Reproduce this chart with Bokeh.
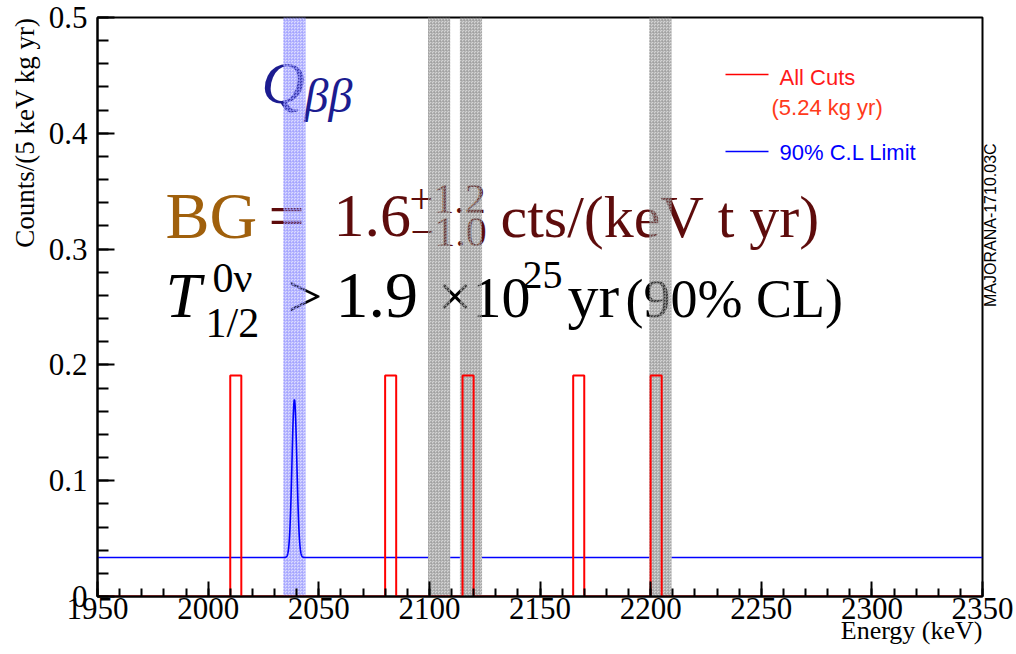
import numpy as np
from bokeh.plotting import figure
from bokeh.models import Label, Range1d, FixedTicker, LinearAxis, Title
from bokeh.embed import file_html
from bokeh.resources import INLINE

# ---- data -------------------------------------------------------------
exposure_kg_yr = 5.24
bin_width_kev = 5.0
energy_min, energy_max = 1950.0, 2350.0
# energies of the events passing all cuts (one per 5 keV bin)
event_energies = [2012.5, 2082.5, 2117.5, 2167.5, 2202.5]

# 90% C.L. limit model: flat background plus a peak at Q_bb
q_bb = 2039.0
limit_flat = 0.0337
limit_peak = 0.170
peak_sigma = 1.1

# Q_bb window and background windows excluded from the fit
roi_half_width = 5.0
excluded_centres = [2104.4, 2118.8, 2204.4]
excluded_half_width = 5.0

x_tick_values = [1950, 2000, 2050, 2100, 2150, 2200, 2250, 2300, 2350]
x_tick_labels = ["1950", "2000", "2050", "2100", "2150", "2200", "2250", "2300", "2350"]
y_tick_values = [0.0, 0.1, 0.2, 0.3, 0.4, 0.5]
y_tick_labels = ["0", "0.1", "0.2", "0.3", "0.4", "0.5"]

x_title = "Energy (keV)"
y_title = "Counts/(5 keV kg yr)"
plot_tag = "MAJORANA-1710.03C"

# ---- geometry ---------------------------------------------------------
W, H = 1016, 654
BL, BR, BT, BB = 97, 34, 17, 58
FW, FH = W - BL - BR, H - BT - BB
y_min, y_max = 0.0, 0.5


def at(px, py):
    """Pixel position on the page -> data coordinates."""
    return (energy_min + (px - BL) * (energy_max - energy_min) / FW,
            y_min + (BT + FH - py) * (y_max - y_min) / FH)


p = figure(width=W, height=H, output_backend="svg", toolbar_location=None,
           x_range=Range1d(energy_min, energy_max), y_range=Range1d(y_min, y_max),
           min_border_left=BL, min_border_right=BR, min_border_top=BT, min_border_bottom=BB)
p.xgrid.visible = False
p.ygrid.visible = False
p.outline_line_color = "black"
p.outline_line_width = 2
p.background_fill_color = "white"
p.border_fill_color = "white"

# axes
p.xaxis.ticker = FixedTicker(ticks=x_tick_values,
                             minor_ticks=list(np.arange(energy_min, energy_max + 1, 10.0)))
p.xaxis.major_label_overrides = dict(zip(x_tick_values, x_tick_labels))
p.yaxis.ticker = FixedTicker(ticks=y_tick_values,
                             minor_ticks=[round(v, 2) for v in np.arange(0, 0.501, 0.02)])
p.yaxis.major_label_overrides = dict(zip(y_tick_values, y_tick_labels))
for ax in (p.xaxis[0], p.yaxis[0]):
    ax.axis_line_width = 2
    ax.axis_line_color = "black"
    ax.major_tick_line_width = 2
    ax.minor_tick_line_width = 2
    ax.major_tick_out = 0
    ax.minor_tick_out = 0
    ax.major_label_text_font = "Liberation Serif"
    ax.major_label_text_font_size = "31px"
    ax.major_label_text_color = "black"
p.xaxis.major_tick_in = 15
p.xaxis.minor_tick_in = 8
p.xaxis.major_label_standoff = 1
p.yaxis.major_tick_in = 17
p.yaxis.minor_tick_in = 11
p.yaxis.major_label_standoff = 10

# ROOT-style axis titles, flush with the right end / top end of the axes
p.add_layout(Title(text=x_title, align="right", vertical_align="middle", standoff=-14,
                   text_font="Liberation Serif", text_font_size="26px",
                   text_font_style="normal", text_color="black"), "below")
p.add_layout(Title(text=y_title, align="right", vertical_align="middle", standoff=10,
                   text_font="Liberation Serif", text_font_size="27px",
                   text_font_style="normal", text_color="black"), "left")

# tag along the right-hand edge, read bottom to top, carried by a bare axis
tag_axis = LinearAxis(ticker=FixedTicker(ticks=[]), axis_line_color=None,
                      major_tick_line_color=None, minor_tick_line_color=None,
                      major_label_text_font_size="0px", axis_label=plot_tag,
                      axis_label_text_font="Liberation Sans", axis_label_text_font_size="16px",
                      axis_label_text_font_style="normal", axis_label_text_color="black",
                      axis_label_standoff=8, axis_label_orientation=np.pi / 2)
p.add_layout(tag_axis, "right")


def label(text, px, base, size, color="black", font="Liberation Serif", style="normal",
          level="underlay"):
    """Text whose glyph baseline sits at page row `base` (middle-anchored)."""
    x, y = at(px, base - 0.34 * size)
    p.add_layout(Label(x=x, y=y, text=text, text_font=font, text_font_size=f"{size}px",
                       text_color=color, text_font_style=style, text_align="left",
                       text_baseline="middle", level=level))


# formulae (drawn under the shaded windows)
brown, maroon, navy = "#a0600c", "#5e0c0c", "#1c1c90"
label("Q", 261, 103, 60, navy, style="italic")
label("ββ", 304, 111, 48, navy, style="italic")

label("BG", 165, 237, 66, brown)
label("=", 268, 237, 64, maroon)
label("1.6", 333, 237, 62, maroon)
label("+1.2", 409, 213, 42, maroon)
label("\u22121.0", 410, 246, 42, maroon)
label("cts/(keV t yr)", 500, 237, 60, maroon)

label("T", 165, 317, 64, style="italic")
label("0ν", 212, 292, 42)
label("1/2", 205, 337, 42)
label(">", 287, 317, 62)
label("1.9", 335, 317, 66)
label("×", 437, 317, 62)
label("10", 472, 317, 58)
label("25", 522, 288, 40)
label("yr", 567, 317, 62)
label("(90% CL)", 625, 317, 54)

# legend
lx0, ly_red = at(725, 74)
lx1, ly_blue = at(768, 151)
p.segment(x0=[lx0], y0=[ly_red], x1=[lx1], y1=[ly_red], line_color="#ff0000", line_width=1.5)
p.segment(x0=[lx0], y0=[ly_blue], x1=[lx1], y1=[ly_blue], line_color="#0000ff", line_width=1.5)
label("All Cuts", 779, 84, 22, "#ff1a1a", font="Liberation Sans", level="annotation")
label("(5.24 kg yr)", 771, 114, 22, "#ff3a1a", font="Liberation Sans", level="annotation")
label("90% C.L Limit", 779, 159, 22, "#0000ff", font="Liberation Sans", level="annotation")

# Q_bb window
p.quad(left=[q_bb - roi_half_width], right=[q_bb + roi_half_width], bottom=[y_min], top=[y_max],
       fill_color="#8484ff", fill_alpha=0.3, line_color=None,
       hatch_pattern="criss_cross", hatch_color="#9c9cff", hatch_scale=3, hatch_weight=1,
       hatch_alpha=0.5)

# 90% C.L. limit curve, undefined inside the excluded windows
e = np.linspace(energy_min, energy_max, 8001)
limit = limit_flat + (limit_peak - limit_flat) * np.exp(-0.5 * ((e - q_bb) / peak_sigma) ** 2)
for c in excluded_centres:
    limit[np.abs(e - c) < excluded_half_width] = np.nan
p.line(e, limit, line_color="#0000ff", line_width=1.6)

# excluded background windows
p.quad(left=[c - excluded_half_width for c in excluded_centres],
       right=[c + excluded_half_width for c in excluded_centres],
       bottom=[y_min] * len(excluded_centres), top=[y_max] * len(excluded_centres),
       fill_color="#8c8c8c", fill_alpha=0.38, line_color=None,
       hatch_pattern="criss_cross", hatch_color="#9a9a9a", hatch_scale=3, hatch_weight=1,
       hatch_alpha=0.5)

# event histogram, drawn as an outline
edges = np.arange(energy_min, energy_max + bin_width_kev / 2, bin_width_kev)
counts, _ = np.histogram(event_energies, bins=edges)
rate = counts / exposure_kg_yr
hx = np.repeat(edges, 2)
hy = np.concatenate([[0.0], np.repeat(rate, 2), [0.0]])
p.line(hx, hy, line_color="#ff0000", line_width=2)

open("out.html", "w").write(file_html(p, INLINE))
